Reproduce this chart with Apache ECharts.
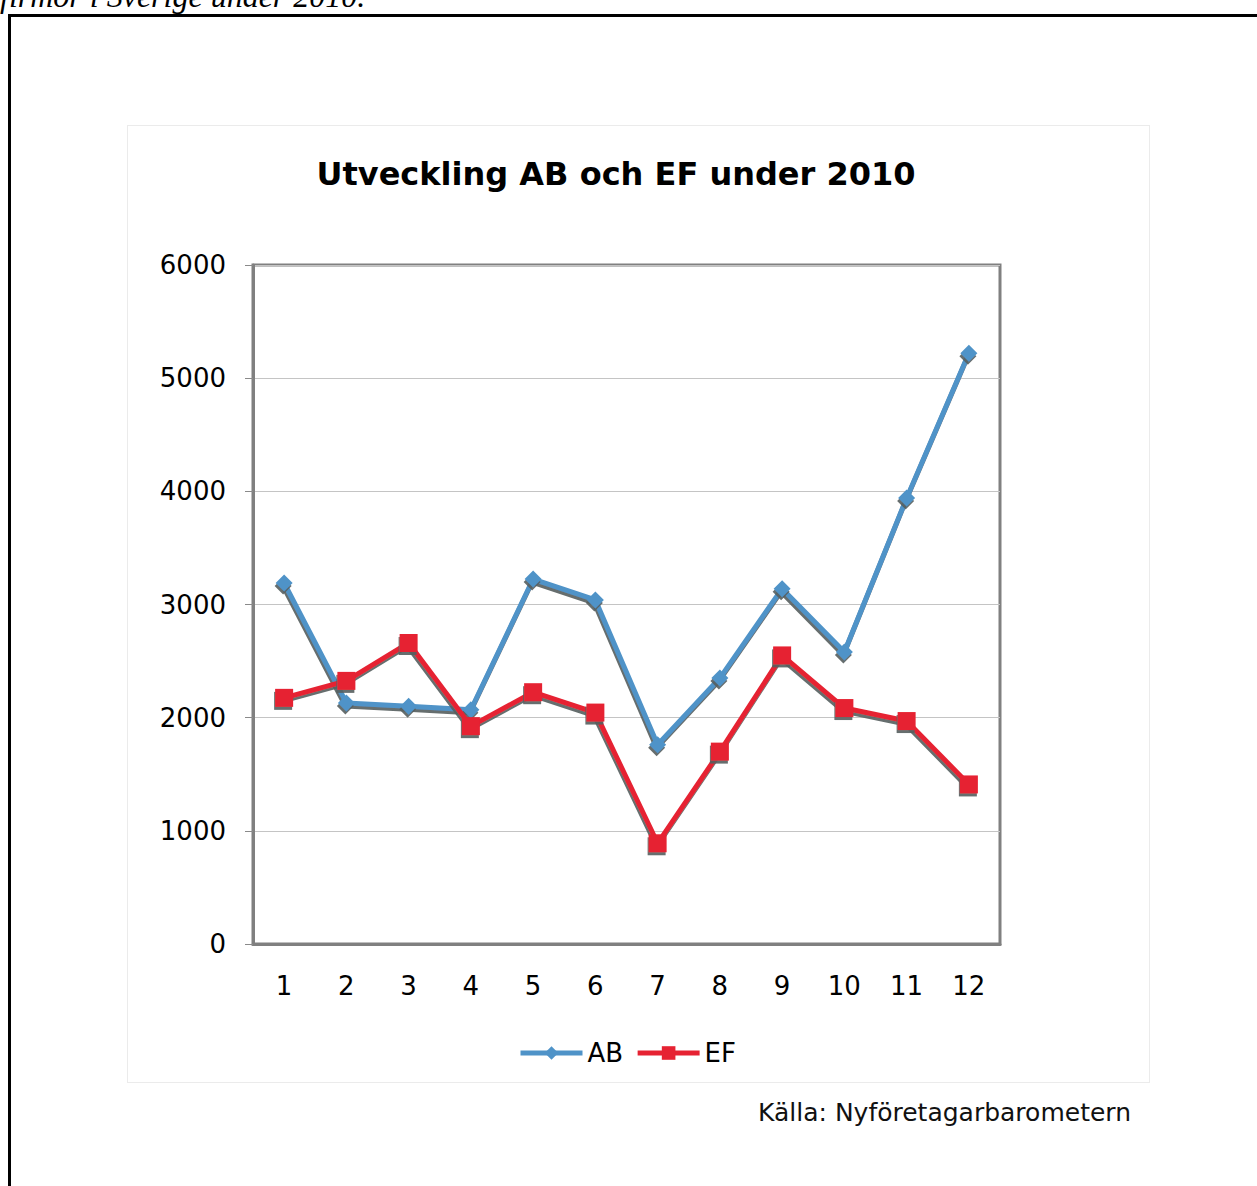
<!DOCTYPE html>
<html>
<head>
<meta charset="utf-8">
<script src="https://cdn.jsdelivr.net/npm/echarts@6/dist/echarts.min.js"></script>
<style>
  html, body { margin: 0; padding: 0; background: #fff; overflow: hidden; }
  #page { position: relative; width: 1257px; height: 1186px; }
  #caption {
    position: absolute; left: 0px; top: -20px; white-space: nowrap;
    font: italic 32px/32px "Liberation Serif", serif; color: #000;
  }
  #frame {
    position: absolute; left: 8px; top: 14px; width: 1400px; height: 1300px;
    border: 3px solid #000; box-sizing: border-box;
  }
  #box {
    position: absolute; left: 127px; top: 125px; width: 1023px; height: 958px;
    border: 1px solid #ebebeb; box-sizing: border-box;
  }
  #chart { position: absolute; left: 0; top: 0; width: 1257px; height: 1186px; }
  #source {
    position: absolute; right: 126px; top: 1098px; white-space: nowrap;
    font: 25px/30px "DejaVu Sans", Verdana, sans-serif; color: #111;
  }
</style>
</head>
<body>
<div id="page">
  <div id="caption">firmor i Sverige under 2010.</div>
  <div id="frame"></div>
  <div id="box"></div>
  <div id="chart"></div>
  <div id="source">Källa: Nyföretagarbarometern</div>
</div>
<script>
let months = ["1", "2", "3", "4", "5", "6", "7", "8", "9", "10", "11", "12"];
let abValues = [3190, 2130, 2100, 2070, 3225, 3040, 1760, 2350, 3140, 2580, 3940, 5220];
let efValues = [2175, 2325, 2660, 1925, 2225, 2045, 890, 1700, 2550, 2085, 1970, 1410];

let chart = echarts.init(document.getElementById("chart"), null, { renderer: "svg" });

let font = "DejaVu Sans";
let shadow = { shadowColor: "rgba(85,95,95,0.9)", shadowBlur: 1, shadowOffsetX: -1, shadowOffsetY: 3 };

let option = {
    animation: false,
    backgroundColor: "transparent",
    title: {
        text: "Utveckling AB och EF under 2010",
        left: 616,
        textAlign: "center",
        top: 158,
        padding: 0,
        textStyle: { fontFamily: font, fontSize: 32, fontWeight: "bold", color: "#000" }
    },
    legend: {
        left: 513,
        top: 1035,
        itemWidth: 62,
        itemHeight: 17,
        itemGap: 12,
        lineStyle: { width: 5, shadowBlur: 0, shadowOffsetX: 0, shadowOffsetY: 0 },
        itemStyle: { shadowBlur: 0, shadowOffsetX: 0, shadowOffsetY: 0 },
        textStyle: { fontFamily: font, fontSize: 26, color: "#000" },
        data: ["AB", "EF"]
    },
    grid: {
        left: 253, right: 257, top: 265, bottom: 242,
        show: true, borderColor: "#808080", borderWidth: 3
    },
    xAxis: {
        type: "category",
        data: months,
        axisLine: { lineStyle: { color: "#808080", width: 3 } },
        axisTick: { length: 8, lineStyle: { color: "#8a8a8a", width: 1 } },
        axisLabel: { margin: 29, fontFamily: font, fontSize: 26, color: "#000" }
    },
    yAxis: {
        type: "value",
        min: 0, max: 6000, interval: 1000,
        axisLine: { show: true, lineStyle: { color: "#808080", width: 3 } },
        axisTick: { show: true, length: 8, lineStyle: { color: "#8a8a8a", width: 1 } },
        axisLabel: {
            margin: 27, fontFamily: font, fontSize: 26, color: "#000",
            formatter: v => String(v)
        },
        splitLine: { lineStyle: { color: "#c4c4c4", width: 1 } }
    },
    series: [
        {
            name: "AB",
            type: "line",
            data: abValues,
            symbol: "diamond",
            symbolSize: 17,
            color: "#4f93c8",
            lineStyle: Object.assign({ width: 5, color: "#4f93c8" }, shadow),
            itemStyle: Object.assign({ color: "#4f93c8" }, shadow),
            z: 3
        },
        {
            name: "EF",
            type: "line",
            data: efValues,
            symbol: "rect",
            symbolSize: 18,
            color: "#e62232",
            lineStyle: Object.assign({ width: 5, color: "#e62232" }, shadow),
            itemStyle: Object.assign({ color: "#e62232" }, shadow),
            z: 4
        }
    ]
};

chart.setOption(option);
</script>
</body>
</html>
